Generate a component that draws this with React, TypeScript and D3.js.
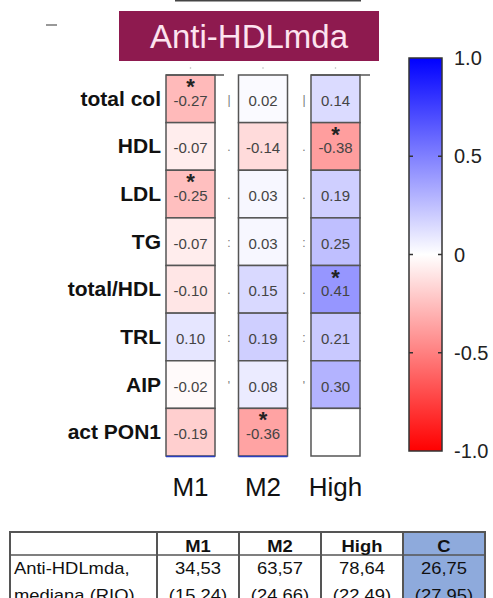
import * as d3 from 'd3';

// heatmap data
const rowLabels = ['total col', 'HDL', 'LDL', 'TG', 'total/HDL', 'TRL', 'AIP', 'act PON1'];
const groups = ['M1', 'M2', 'High'];
const m1Values = [-0.27, -0.07, -0.25, -0.07, -0.1, 0.1, -0.02, -0.19];
const m2Values = [0.02, -0.14, 0.03, 0.03, 0.15, 0.19, 0.08, -0.36];
const highValues: (number | null)[] = [0.14, -0.38, 0.19, 0.25, 0.41, 0.21, 0.3, null];
const m1Signif = [true, false, true, false, false, false, false, false];
const m2Signif = [false, false, false, false, false, false, false, true];
const highSignif = [false, true, false, false, true, false, false, false];
const gapMarks = ['|', '.', '.', ':', '.', ':', "'", ''];

// colour bar
const barTicks = [1, 0.5, 0, -0.5, -1];
const barTickLabels = ['1.0', '0.5', '0', '-0.5', '-1.0'];

// table under the heatmap
const tableHeader = ['M1', 'M2', 'High', 'C'];
const tableRowLabel = ['Anti-HDLmda,', 'mediana (RIQ)'];
const tableMedians = ['34,53', '63,57', '78,64', '26,75'];
const tableIqr = ['(15,24)', '(24,66)', '(22,49)', '(27,95)'];

const W = 493;
const H = 598;
const FONT = 'Liberation Sans, Arial, sans-serif';

const App = () => {
  const columns = [
    { name: 'M1', values: m1Values as (number | null)[], signif: m1Signif },
    { name: 'M2', values: m2Values as (number | null)[], signif: m2Signif },
    { name: 'High', values: highValues, signif: highSignif },
  ];

  const x = d3.scaleBand<string>().domain(groups).range([166, 360]).paddingInner(0.324);
  const y = d3.scaleBand<string>().domain(rowLabels).range([75, 456]);
  const color = d3.scaleLinear<string>().domain([-1, 0, 1]).range(['#ff0000', '#ffffff', '#0000ff']);
  const barY = d3.scaleLinear().domain([1, -1]).range([58, 451]);

  const tx = d3.scaleBand<string>().domain(tableHeader).range([157, 485]);
  const tableLeft = 10;
  const tableTop = 532;
  const headerBottom = 555;

  const gradStops = d3.range(-1, 1.01, 0.25);

  return (
    <svg width={W} height={H} style={{ position: 'absolute', left: 0, top: 0, background: '#fff' }} fontFamily={FONT}>
      <defs>
        <linearGradient id="cbar" x1="0" y1="1" x2="0" y2="0">
          {gradStops.map((v) => (
            <stop key={v} offset={(v + 1) / 2} stopColor={color(v)} />
          ))}
        </linearGradient>
      </defs>

      {/* stray marks at the top */}
      <line x1={175} x2={361} y1={0.5} y2={0.5} stroke="#444" strokeWidth={2} />
      <line x1={46} x2={57} y1={25} y2={25} stroke="#777" strokeWidth={1.5} />

      {/* title */}
      <rect x={119} y={11} width={260} height={50} fill="#8e1a4f" />
      <text x={249} y={48} textAnchor="middle" fontSize={33} fill="#fde3ef">Anti-HDLmda</text>

      {/* row labels */}
      {rowLabels.map((r) => (
        <text key={r} x={161} y={y(r)! + y.bandwidth() / 2 + 7} textAnchor="end" fontSize={21} fontWeight="bold" fill="#111">
          {r}
        </text>
      ))}

      {/* heatmap columns */}
      {columns.map((c) => (
        <g key={c.name}>
          <circle cx={x(c.name)! + x.bandwidth() / 2} cy={68} r={0.8} fill="#bbb" />
          {c.values.map((v, i) => {
            const cy = y(rowLabels[i])!;
            const cx = x(c.name)!;
            return (
              <g key={i}>
                <rect x={cx} y={cy} width={x.bandwidth()} height={y.bandwidth()} fill={v === null ? '#fff' : color(v)} stroke="#555" strokeWidth={1.5} />
                {v !== null && (
                  <text x={cx + x.bandwidth() / 2} y={cy + y.bandwidth() / 2 + 7} textAnchor="middle" fontSize={15} fill="#444">
                    {v.toFixed(2)}
                  </text>
                )}
                {c.signif[i] && (
                  <text x={cx + x.bandwidth() / 2} y={cy + 19} textAnchor="middle" fontSize={22} fontWeight="bold" fill="#222">
                    *
                  </text>
                )}
              </g>
            );
          })}
        </g>
      ))}

      {/* small marks between the columns */}
      {gapMarks.map((m, i) => (
        <g key={i} fill="#777" fontSize={12} textAnchor="middle">
          <text x={229} y={y(rowLabels[i])! + y.bandwidth() / 2 + 5}>{m}</text>
          <text x={304} y={y(rowLabels[i])! + y.bandwidth() / 2 + 5}>{m}</text>
        </g>
      ))}

      {/* top lines sticking out of M1 and High, blue edge under M1 and M2 */}
      <line x1={x('M1')!} x2={224} y1={75} y2={75} stroke="#555" strokeWidth={1.5} />
      <line x1={x('High')!} x2={370} y1={75} y2={75} stroke="#555" strokeWidth={1.5} />
      {['M1', 'M2'].map((g) => (
        <line key={g} x1={x(g)!} x2={x(g)! + x.bandwidth()} y1={456.5} y2={456.5} stroke="#2b3fc0" strokeWidth={1.5} />
      ))}

      {/* column labels */}
      {groups.map((g) => (
        <text key={g} x={x(g)! + x.bandwidth() / 2} y={496} textAnchor="middle" fontSize={26} fill="#111">
          {g}
        </text>
      ))}

      {/* colour bar */}
      <rect x={409} y={barY(1)} width={33} height={barY(-1) - barY(1)} fill="url(#cbar)" stroke="#333" strokeWidth={1.5} />
      {barTicks.map((t, i) => (
        <g key={t}>
          {t !== 1 && t !== -1 && (
            <>
              <line x1={409} x2={413} y1={barY(t)} y2={barY(t)} stroke="#333" strokeWidth={1.5} />
              <line x1={438} x2={442} y1={barY(t)} y2={barY(t)} stroke="#333" strokeWidth={1.5} />
            </>
          )}
          <text x={454} y={barY(t) + 7} fontSize={20} fill="#222">{barTickLabels[i]}</text>
        </g>
      ))}

      {/* table */}
      <rect x={tx('C')!} y={tableTop} width={tx.bandwidth()} height={H - tableTop + 10} fill="#8eaadc" />
      <rect x={tableLeft} y={tableTop} width={485 - tableLeft} height={H - tableTop + 10} fill="none" stroke="#555" strokeWidth={2} />
      <line x1={tableLeft} x2={485} y1={headerBottom} y2={headerBottom} stroke="#555" strokeWidth={1.5} />
      {tableHeader.map((h) => (
        <line key={h} x1={tx(h)!} x2={tx(h)!} y1={tableTop} y2={H + 10} stroke="#555" strokeWidth={2} />
      ))}
      {tableHeader.map((h, i) => {
        const cx = tx(h)! + tx.bandwidth() / 2;
        return (
          <g key={h} fontSize={16} fill="#111">
            <text transform={`translate(${cx},${552}) scale(1.15,1)`} textAnchor="middle" fontWeight="bold">{h}</text>
            <text transform={`translate(${cx},${574}) scale(1.15,1)`} textAnchor="middle">{tableMedians[i]}</text>
            <text transform={`translate(${cx},${601}) scale(1.15,1)`} textAnchor="middle">{tableIqr[i]}</text>
          </g>
        );
      })}
      {tableRowLabel.map((l, i) => (
        <text key={l} transform={`translate(14,${574 + i * 27}) scale(1.15,1)`} fontSize={16} fill="#111">{l}</text>
      ))}
    </svg>
  );
};

export default App;
